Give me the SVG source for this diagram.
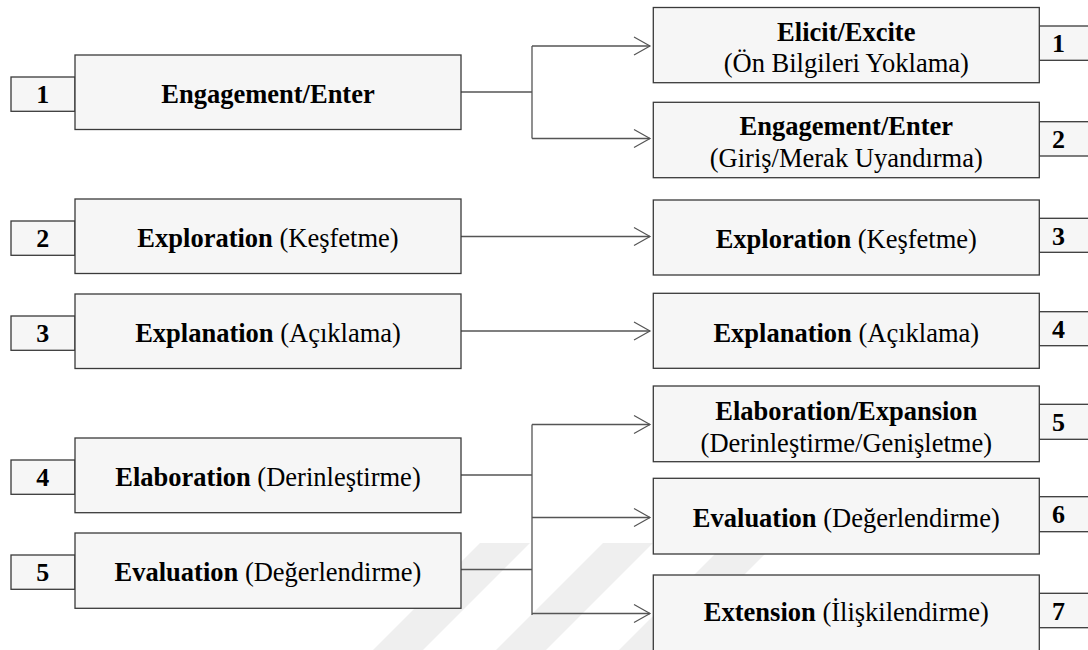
<svg xmlns="http://www.w3.org/2000/svg" width="1088" height="650" viewBox="0 0 1088 650">
  <style>
    .box { fill: #f6f6f6; stroke: #3a3a3a; stroke-width: 1.3; }
    .tab { fill: #f6f6f6; stroke: #3a3a3a; stroke-width: 1.3; }
    .lbl { font-family: "Liberation Serif", "DejaVu Serif", serif; font-size: 26.5px; fill: #000; text-anchor: middle; }
    .num { font-family: "Liberation Serif", "DejaVu Serif", serif; font-size: 26px; font-weight: bold; fill: #000; text-anchor: middle; }
    .b { font-weight: bold; }
    .wire { fill: none; stroke: #555; stroke-width: 1.3; }
    .mark { fill: #efefef; }
  </style>
  <defs>
    <marker id="arrow" markerUnits="userSpaceOnUse" markerWidth="20" markerHeight="20" refX="16" refY="10" orient="auto" overflow="visible">
      <path d="M0,1 L16,10 L0,19" fill="none" stroke="#555" stroke-width="1.2"/>
    </marker>
  </defs>

  <rect width="1088" height="650" fill="#fff"/>

  <!-- faint background mark -->
  <g id="backdrop">
    <polygon class="mark" points="480,543 530,543 423,650 373,650"/>
    <polygon class="mark" points="603,543 653,543 546,650 496,650"/>
    <polygon class="mark" points="726,543 776,543 669,650 619,650"/>
  </g>

  <!-- connectors -->
  <g id="connectors">
    <path class="wire" d="M461,92 H532 M532,46 V138.5"/>
    <path class="wire" d="M532,46 H650" marker-end="url(#arrow)"/>
    <path class="wire" d="M532,138.5 H650" marker-end="url(#arrow)"/>
    <path class="wire" d="M461,236.5 H650" marker-end="url(#arrow)"/>
    <path class="wire" d="M461,331 H650" marker-end="url(#arrow)"/>
    <path class="wire" d="M461,475 H532 M461,569.5 H532 M532,424.5 V615"/>
    <path class="wire" d="M532,424.5 H650" marker-end="url(#arrow)"/>
    <path class="wire" d="M532,517.5 H650" marker-end="url(#arrow)"/>
    <path class="wire" d="M532,613.5 H650" marker-end="url(#arrow)"/>
  </g>

  <!-- left column: phases of the 5E model -->
  <g id="left-1">
    <rect class="tab" x="11" y="77" width="64" height="34.3"/>
    <text class="num" x="42.7" y="103">1</text>
    <rect class="box" x="75" y="55" width="386" height="74.5"/>
    <text class="lbl b" x="268" y="102.5">Engagement/Enter</text>
  </g>
  <g id="left-2">
    <rect class="tab" x="11" y="221" width="64" height="34.3"/>
    <text class="num" x="42.7" y="247">2</text>
    <rect class="box" x="75" y="199" width="386" height="74.5"/>
    <text class="lbl" x="268" y="247"><tspan class="b">Exploration</tspan> (Keşfetme)</text>
  </g>
  <g id="left-3">
    <rect class="tab" x="11" y="316" width="64" height="34.3"/>
    <text class="num" x="42.7" y="342">3</text>
    <rect class="box" x="75" y="294" width="386" height="74.5"/>
    <text class="lbl" x="268" y="342"><tspan class="b">Explanation</tspan> (Açıklama)</text>
  </g>
  <g id="left-4">
    <rect class="tab" x="11" y="460" width="64" height="34.3"/>
    <text class="num" x="42.7" y="486">4</text>
    <rect class="box" x="75" y="438" width="386" height="74.7"/>
    <text class="lbl" x="268" y="486"><tspan class="b">Elaboration</tspan> (Derinleştirme)</text>
  </g>
  <g id="left-5">
    <rect class="tab" x="11" y="555" width="64" height="34.3"/>
    <text class="num" x="42.7" y="581">5</text>
    <rect class="box" x="75" y="533" width="386" height="75.3"/>
    <text class="lbl" x="268" y="581"><tspan class="b">Evaluation</tspan> (Değerlendirme)</text>
  </g>

  <!-- right column: phases of the 7E model -->
  <g id="right-1">
    <rect class="tab" x="1039.3" y="26" width="60" height="34.3"/>
    <text class="num" x="1058.5" y="52">1</text>
    <rect class="box" x="653.3" y="7.5" width="386" height="75.2"/>
    <text class="lbl" x="846.3" y="40.5"><tspan class="b">Elicit/Excite</tspan></text>
    <text class="lbl" x="846.3" y="72">(Ön Bilgileri Yoklama)</text>
  </g>
  <g id="right-2">
    <rect class="tab" x="1039.3" y="121.7" width="60" height="34.3"/>
    <text class="num" x="1058.5" y="148">2</text>
    <rect class="box" x="653.3" y="102.3" width="386" height="75.4"/>
    <text class="lbl" x="846.3" y="134.5"><tspan class="b">Engagement/Enter</tspan></text>
    <text class="lbl" x="846.3" y="166.5">(Giriş/Merak Uyandırma)</text>
  </g>
  <g id="right-3">
    <rect class="tab" x="1039.3" y="218.3" width="60" height="34"/>
    <text class="num" x="1058.5" y="244.5">3</text>
    <rect class="box" x="653.3" y="200" width="386" height="75"/>
    <text class="lbl" x="846.3" y="248.3"><tspan class="b">Exploration</tspan> (Keşfetme)</text>
  </g>
  <g id="right-4">
    <rect class="tab" x="1039.3" y="311.7" width="60" height="34"/>
    <text class="num" x="1058.5" y="338">4</text>
    <rect class="box" x="653.3" y="293.3" width="386" height="75"/>
    <text class="lbl" x="846.3" y="341.5"><tspan class="b">Explanation</tspan> (Açıklama)</text>
  </g>
  <g id="right-5">
    <rect class="tab" x="1039.3" y="404.3" width="60" height="35"/>
    <text class="num" x="1058.5" y="431">5</text>
    <rect class="box" x="653.3" y="386" width="386" height="75.7"/>
    <text class="lbl" x="846.3" y="419.5"><tspan class="b">Elaboration/Expansion</tspan></text>
    <text class="lbl" x="846.3" y="451.5">(Derinleştirme/Genişletme)</text>
  </g>
  <g id="right-6">
    <rect class="tab" x="1039.3" y="496.7" width="60" height="35"/>
    <text class="num" x="1058.5" y="523">6</text>
    <rect class="box" x="653.3" y="478.3" width="386" height="75.7"/>
    <text class="lbl" x="846.3" y="526.5"><tspan class="b">Evaluation</tspan> (Değerlendirme)</text>
  </g>
  <g id="right-7">
    <rect class="tab" x="1039.3" y="593.3" width="60" height="34.4"/>
    <text class="num" x="1058.5" y="619.5">7</text>
    <rect class="box" x="653.3" y="575" width="386" height="76"/>
    <text class="lbl" x="846.3" y="621"><tspan class="b">Extension</tspan> (İlişkilendirme)</text>
  </g>
</svg>
